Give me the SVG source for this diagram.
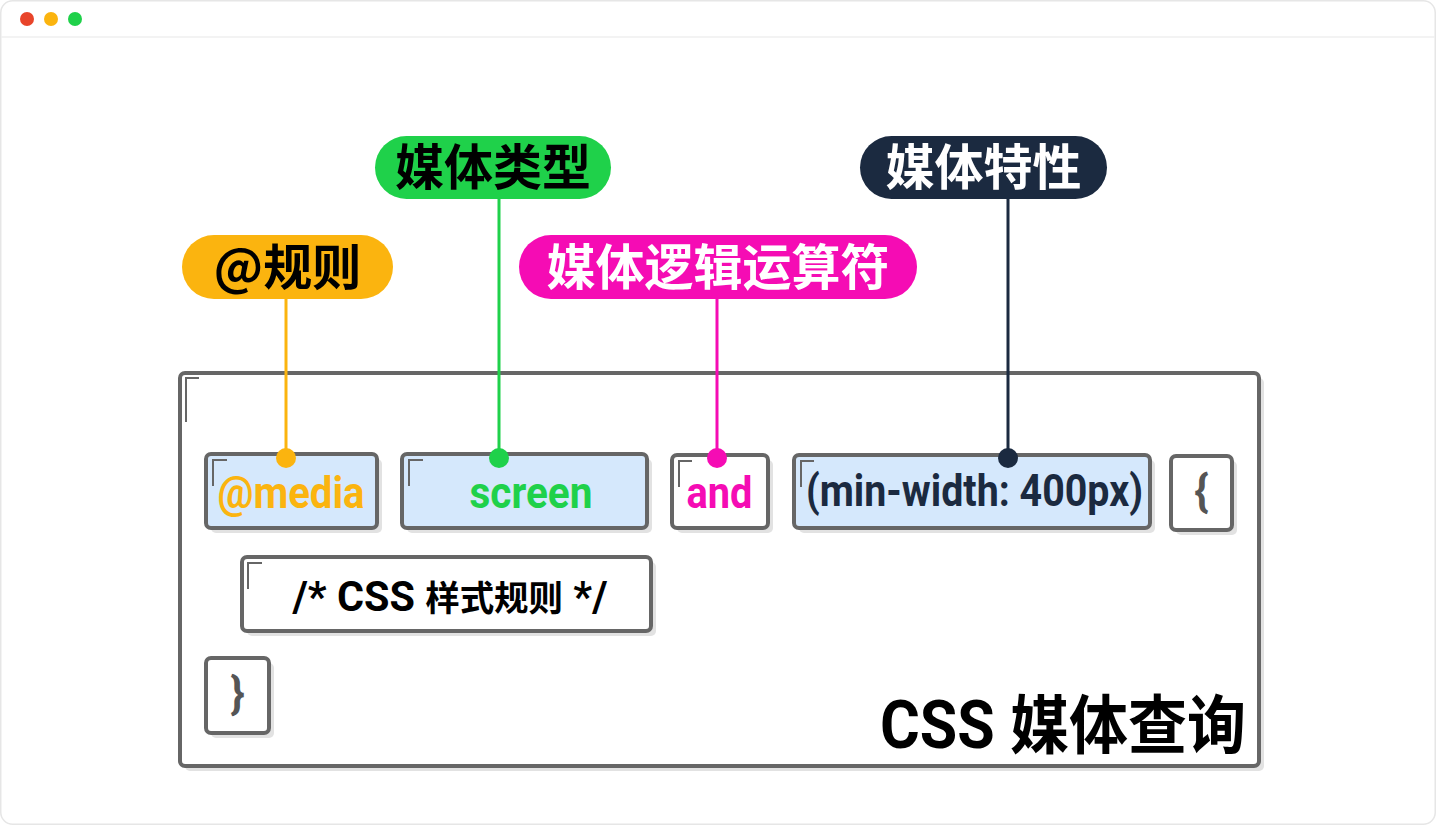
<svg xmlns="http://www.w3.org/2000/svg" width="1436" height="825" viewBox="0 0 1436 825">
<defs>
<style>
.win{fill:#ffffff;stroke:#e6e6e6;stroke-width:1.5}
.box{stroke:#666666;stroke-width:4}
.blue{fill:#d5e8fc}
.white{fill:#ffffff}
.shadow{fill:#e2e2e2}
.mark{fill:none;stroke:#666666;stroke-width:2}
.lbl{font-family:"Noto Sans CJK SC","Noto Sans",sans-serif;font-weight:700;font-size:49px;text-anchor:middle}
.code{font-family:Roboto,"Noto Sans CJK SC",sans-serif;font-weight:700;font-size:44px;text-anchor:middle}
.lat{font-family:Roboto,"Noto Sans CJK SC",sans-serif;font-weight:700}
.cjk{font-family:"Noto Sans CJK SC",sans-serif;font-weight:700}
.conn{stroke-width:3;fill:none}
</style>
</defs>
<rect x="0.75" y="0.75" width="1434.5" height="823.5" rx="12" class="win"/>
<line x1="1" y1="37" x2="1435" y2="37" stroke="#efefef" stroke-width="1.5"/>
<circle cx="27" cy="19" r="7" fill="#e8442a"/>
<circle cx="51" cy="19" r="7" fill="#fbb40f"/>
<circle cx="75" cy="19" r="7" fill="#1fd14a"/>

<g id="container">
<rect x="185" y="378" width="1079" height="393" rx="5" class="shadow"/>
<rect x="180" y="373" width="1079" height="393" rx="5" class="box white"/>
<path d="M199 378 H186 V422" class="mark"/>
<text x="1246" y="748" text-anchor="end" textLength="366" lengthAdjust="spacingAndGlyphs" fill="#000"><tspan class="lat" font-size="66">CSS </tspan><tspan class="cjk" font-size="64">媒体查询</tspan></text>
</g>

<g id="node-media">
<rect x="211" y="459" width="171" height="74" rx="5" class="shadow"/>
<rect x="206" y="454" width="171" height="74" rx="5" class="box blue"/>
<path d="M227 460 H213 V486" class="mark"/>
<text x="291" y="508" class="code" fill="#fbb40f" textLength="147" lengthAdjust="spacingAndGlyphs">@media</text>
</g>

<g id="node-screen">
<rect x="407" y="459" width="245" height="74" rx="5" class="shadow"/>
<rect x="402" y="454" width="245" height="74" rx="5" class="box blue"/>
<path d="M423 460 H409 V486" class="mark"/>
<text x="531" y="508" class="code" fill="#1fd14a" textLength="123" lengthAdjust="spacingAndGlyphs">screen</text>
</g>

<g id="node-and">
<rect x="677" y="460" width="96" height="73" rx="5" class="shadow"/>
<rect x="672" y="455" width="96" height="73" rx="5" class="box white"/>
<path d="M692 461 H679 V487" class="mark"/>
<text x="719.5" y="508" class="code" fill="#f50cb4" textLength="66" lengthAdjust="spacingAndGlyphs">and</text>
</g>

<g id="node-feature">
<rect x="799" y="460" width="356" height="73" rx="5" class="shadow"/>
<rect x="794" y="455" width="356" height="73" rx="5" class="box blue"/>
<path d="M814 461 H801 V487" class="mark"/>
<text x="974.5" y="506" class="code" fill="#1b2a40" textLength="337" lengthAdjust="spacingAndGlyphs">(min-width: 400px)</text>
</g>

<g id="node-open-brace">
<rect x="1176" y="461" width="61" height="74" rx="5" class="shadow"/>
<rect x="1171" y="456" width="61" height="74" rx="5" class="box white"/>
<text x="1201.5" y="506" class="code" fill="#555555" font-size="38" font-weight="500">{</text>
</g>

<g id="node-rules">
<rect x="247" y="562" width="409" height="74" rx="5" class="shadow"/>
<rect x="242" y="557" width="409" height="74" rx="5" class="box white"/>
<path d="M262 563 H248 V589" class="mark"/>
<text x="450" y="611" text-anchor="middle" textLength="315" lengthAdjust="spacingAndGlyphs" fill="#000"><tspan class="lat" font-size="42">/* CSS </tspan><tspan class="cjk" font-size="35">样式规则</tspan><tspan class="lat" font-size="42"> */</tspan></text>
</g>

<g id="node-close-brace">
<rect x="211" y="663" width="63" height="75" rx="5" class="shadow"/>
<rect x="206" y="658" width="63" height="75" rx="5" class="box white"/>
<text x="237.5" y="708" class="code" fill="#555555" font-size="38" font-weight="500">}</text>
</g>

<g id="label-at-rule">
<rect x="182" y="235" width="211" height="64" rx="32" fill="#fbb40f"/>
<text x="287.5" y="285" class="lbl" fill="#000">@规则</text>
</g>

<g id="label-media-type">
<rect x="375" y="136" width="236" height="63" rx="31.5" fill="#1fd14a"/>
<text x="493" y="185" class="lbl" fill="#000">媒体类型</text>
</g>

<g id="label-logic">
<rect x="519" y="235" width="398" height="64" rx="32" fill="#f50cb4"/>
<text x="718" y="285" class="lbl" fill="#fff">媒体逻辑运算符</text>
</g>

<g id="label-feature">
<rect x="860" y="136" width="247" height="63" rx="31.5" fill="#1b2a40"/>
<text x="983.5" y="185" class="lbl" fill="#fff">媒体特性</text>
</g>

<g id="connectors">
<line x1="286" y1="299" x2="286" y2="458" class="conn" stroke="#fbb40f"/>
<circle cx="286" cy="458" r="10" fill="#fbb40f"/>
<line x1="499" y1="199" x2="499" y2="458" class="conn" stroke="#1fd14a"/>
<circle cx="499" cy="458" r="10" fill="#1fd14a"/>
<line x1="717" y1="299" x2="717" y2="458" class="conn" stroke="#f50cb4"/>
<circle cx="717" cy="458" r="10" fill="#f50cb4"/>
<line x1="1008" y1="199" x2="1008" y2="458" class="conn" stroke="#1b2a40"/>
<circle cx="1008" cy="458" r="10" fill="#1b2a40"/>
</g>
</svg>
